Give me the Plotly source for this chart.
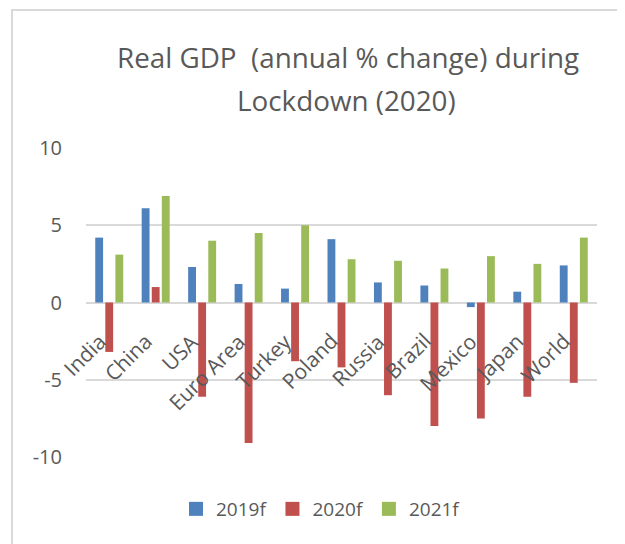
import plotly.graph_objects as go

categories = ["India", "China", "USA", "Euro Area", "Turkey", "Poland", "Russia",
              "Brazil", "Mexico", "Japan", "World"]
gdp_2019f = [4.2, 6.1, 2.3, 1.2, 0.9, 4.1, 1.3, 1.1, -0.3, 0.7, 2.4]
gdp_2020f = [-3.2, 1.0, -6.1, -9.1, -3.8, -4.2, -6.0, -8.0, -7.5, -6.1, -5.2]
gdp_2021f = [3.1, 6.9, 4.0, 4.5, 5.0, 2.8, 2.7, 2.2, 3.0, 2.5, 4.2]
series_names = ["2019f", "2020f", "2021f"]
y_ticks = [-10, -5, 0, 5, 10]

colors = ["#4F81BD", "#C0504D", "#9BBB59"]
text_color = "#595959"
font_family = "Open Sans"

# the page body has an 8px margin; lay the figure out in page pixels minus 8
OFF = 8
W, H = 625 - OFF, 544 - OFF
plot_l, plot_r, plot_t, plot_b = 86, 597, 148, 457  # page pixel positions
ml = plot_l - OFF
mr = W - (plot_r - OFF)
mt = plot_t - OFF
mb = H - (plot_b - OFF)

fig = go.Figure()
for name, vals, c in zip(series_names, [gdp_2019f, gdp_2020f, gdp_2021f], colors):
    fig.add_trace(go.Bar(x=categories, y=vals, name=name, marker_color=c,
                         marker_line_width=0, showlegend=False))
# legend entries with square swatches
for name, c in zip(series_names, colors):
    fig.add_trace(go.Scatter(x=[None], y=[None], mode="markers", name=name,
                             marker=dict(symbol="square", size=14, color=c)))

# category labels placed along the zero axis, rotated like the original
for cat in categories:
    fig.add_annotation(x=cat, y=0, xref="x", yref="y", text=cat, showarrow=False,
                       textangle=-45, xanchor="right", yanchor="top",
                       xshift=5, yshift=-22,
                       font=dict(family=font_family, size=21, color=text_color))

pw = W - ml - mr
ph = H - mt - mb
def px2paper_x(px):
    return (px - OFF - ml) / pw
def px2paper_y(py):
    return (H - mb - (py - OFF)) / ph

# title lines
fig.add_annotation(x=px2paper_x(348), y=px2paper_y(57), xref="paper", yref="paper",
                   text="Real GDP&nbsp;&nbsp;(annual % change) during", showarrow=False,
                   xanchor="center", yanchor="middle",
                   font=dict(family=font_family, size=27.8, color=text_color))
fig.add_annotation(x=px2paper_x(346), y=px2paper_y(100), xref="paper", yref="paper",
                   text="Lockdown (2020)", showarrow=False,
                   xanchor="center", yanchor="middle",
                   font=dict(family=font_family, size=27.8, color=text_color))

# chart border
fig.add_shape(type="rect", xref="paper", yref="paper",
              x0=px2paper_x(12), x1=px2paper_x(660), y0=px2paper_y(580), y1=px2paper_y(10),
              line=dict(color="#D9D9D9", width=2), layer="below")

fig.update_layout(
    width=W, height=H,
    margin=dict(l=ml, r=mr, t=mt, b=mb),
    paper_bgcolor="white", plot_bgcolor="white",
    barmode="group", bargap=0.35, bargroupgap=0.22,
    showlegend=True,
    legend=dict(orientation="h", x=px2paper_x(321), xanchor="center",
                y=px2paper_y(509), yanchor="middle",
                font=dict(family=font_family, size=19, color=text_color),
                itemwidth=30, traceorder="normal"),
    font=dict(family=font_family, color=text_color),
)
fig.update_xaxes(range=[-0.5, len(categories) - 0.5], autorange=False,
                 showticklabels=False, showgrid=False, zeroline=False, showline=False)
fig.update_yaxes(range=[-10, 10], tickvals=y_ticks, ticktext=[str(v) for v in y_ticks],
                 showgrid=True, gridcolor="#D9D9D9", gridwidth=1.5,
                 zeroline=True, zerolinecolor="#D9D9D9", zerolinewidth=2,
                 showline=False, ticks="", ticklabelstandoff=23,
                 tickfont=dict(family=font_family, size=20, color=text_color))

fig.write_html("out.html")
